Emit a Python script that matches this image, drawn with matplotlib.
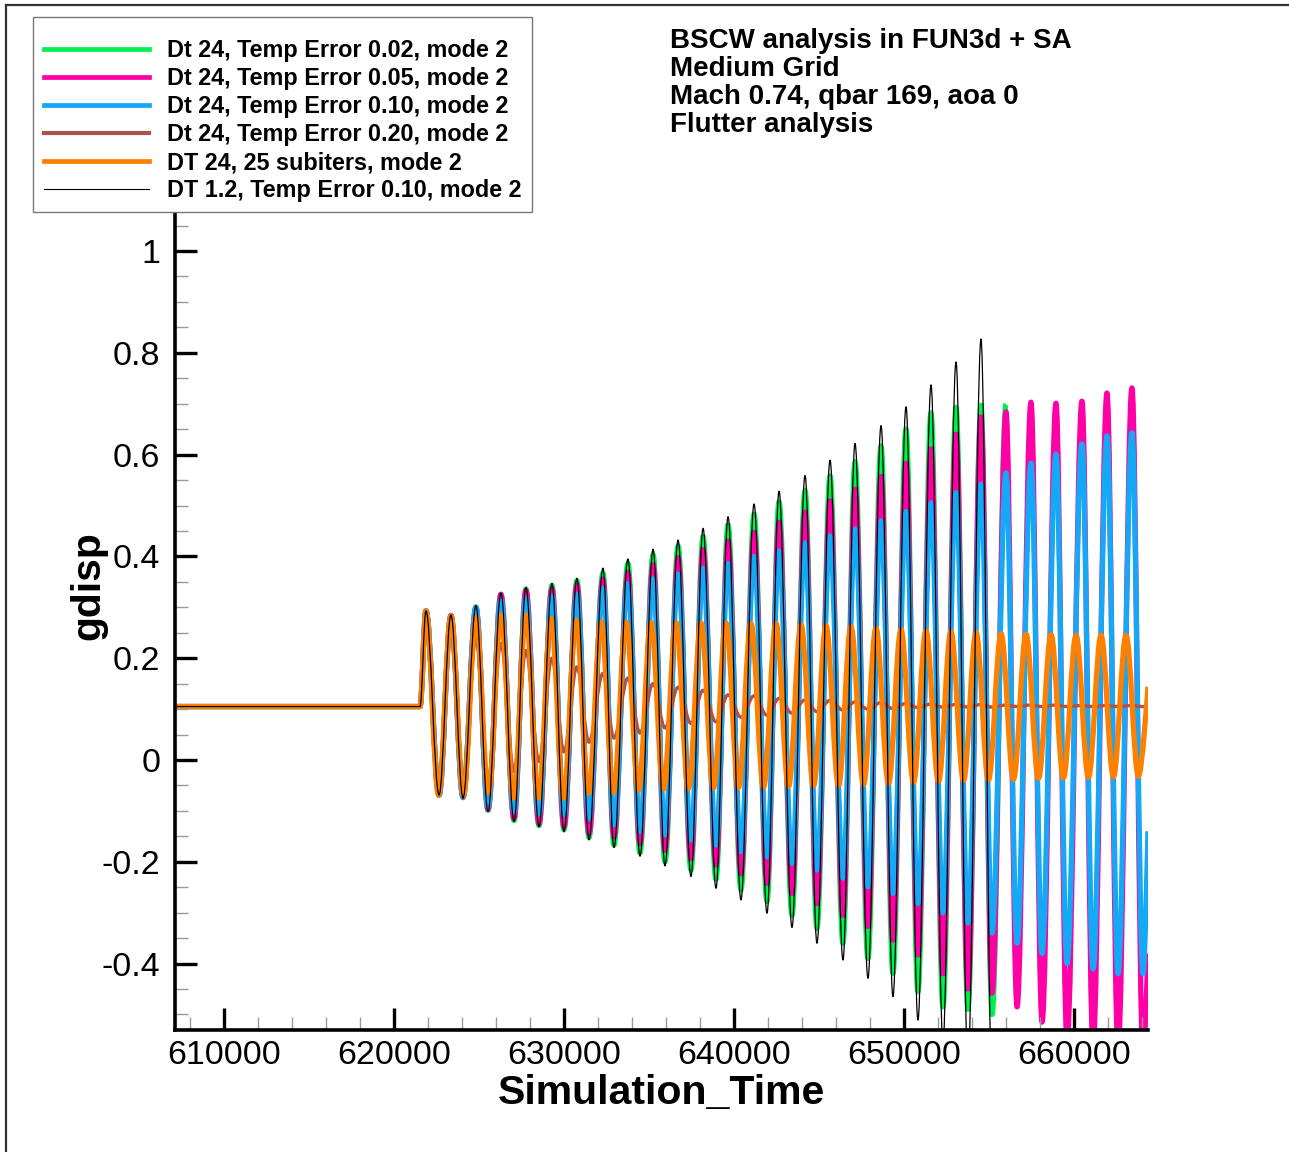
import matplotlib
matplotlib.use("Agg")
import matplotlib.pyplot as plt
from matplotlib.path import Path
from matplotlib.patches import PathPatch
from matplotlib.lines import Line2D
from matplotlib.ticker import MultipleLocator

plt.rcParams['font.family'] = ['Liberation Sans', 'DejaVu Sans']

# Dati: istanti dei massimi/minimi e valori di gdisp
baseline = 0.105
t_step = 621530

t_peak = [621880, 623350, 624820, 626290, 627760, 629290, 630760, 632290, 633760, 635240,
          636710, 638180, 639650, 641180, 642650, 644180, 645650, 647120, 648650, 650120,
          651590, 653060, 654530, 656000, 657470, 658940, 660470, 661940, 663410]
t_trough = [622650, 624060, 625530, 627060, 628530, 630000, 631470, 632940, 634470, 635940,
            637470, 638940, 640410, 641940, 643410, 644880, 646410, 647880, 649350, 650820,
            652290, 653760, 655180, 656650, 658120, 659590, 661120, 662590, 664060]

# orange (25 subiters) ha un periodo un po' piu' corto
t_peak_or = [621880, 623350, 624820, 626290, 627760, 629240, 630710, 632180, 633650, 635120,
             636590, 638060, 639530, 641000, 642470, 643940, 645410, 646880, 648350, 649820,
             651290, 652760, 654240, 655710, 657180, 658650, 660120, 661590, 663060]
t_trough_or = [622620, 624090, 625560, 627030, 628500, 629970, 631440, 632910, 634380, 635850,
               637320, 638790, 640260, 641740, 643210, 644680, 646150, 647620, 649090, 650560,
               652030, 653500, 654970, 656440, 657910, 659380, 660850, 662320, 663790]
t_end = 664350

green_peak = [0.293, 0.284, 0.301, 0.326, 0.336, 0.343, 0.352, 0.367, 0.386, 0.403, 0.420, 0.439,
              0.462, 0.483, 0.507, 0.530, 0.558, 0.586, 0.617, 0.650, 0.682, 0.693, 0.697, 0.699]
green_trough = [-0.069, -0.074, -0.099, -0.119, -0.129, -0.137, -0.152, -0.167, -0.182, -0.200,
                -0.216, -0.234, -0.255, -0.278, -0.305, -0.331, -0.360, -0.390, -0.419, -0.455,
                -0.485, -0.490, -0.500]

pink_peak = [0.293, 0.284, 0.299, 0.325, 0.333, 0.336, 0.344, 0.355, 0.368, 0.383, 0.397, 0.413,
             0.430, 0.447, 0.467, 0.487, 0.509, 0.532, 0.557, 0.583, 0.611, 0.640, 0.674, 0.684,
             0.703, 0.701, 0.705, 0.721, 0.731]
pink_trough = [-0.069, -0.073, -0.097, -0.115, -0.125, -0.131, -0.144, -0.151, -0.164, -0.177,
               -0.193, -0.206, -0.223, -0.242, -0.262, -0.282, -0.305, -0.327, -0.354, -0.383,
               -0.420, -0.450, -0.458, -0.485, -0.515, -0.550, -0.560, -0.570, -0.580]
pink_end = -0.38

cyan_peak = [0.293, 0.283, 0.299, 0.314, 0.318, 0.322, 0.326, 0.338, 0.346, 0.356, 0.365, 0.377,
             0.386, 0.400, 0.411, 0.426, 0.440, 0.454, 0.470, 0.488, 0.505, 0.525, 0.542, 0.564,
             0.583, 0.601, 0.621, 0.637, 0.643]
cyan_trough = [-0.069, -0.072, -0.092, -0.101, -0.106, -0.108, -0.115, -0.128, -0.141, -0.147,
               -0.157, -0.167, -0.180, -0.190, -0.203, -0.216, -0.232, -0.249, -0.262, -0.282,
               -0.300, -0.320, -0.340, -0.360, -0.380, -0.400, -0.410, -0.420, -0.420]
cyan_end = -0.14

brown_peak = [0.293, 0.283, 0.240, 0.229, 0.215, 0.200, 0.183, 0.170, 0.161, 0.150, 0.143, 0.137,
              0.128, 0.126, 0.121, 0.118, 0.117, 0.114, 0.113, 0.111, 0.110, 0.109, 0.109, 0.108,
              0.108, 0.108, 0.107, 0.107, 0.107]
brown_trough = [-0.069, -0.072, -0.040, -0.023, -0.003, 0.016, 0.035, 0.043, 0.053, 0.063, 0.072,
                0.075, 0.084, 0.088, 0.092, 0.095, 0.098, 0.100, 0.101, 0.103, 0.104, 0.104,
                0.104, 0.105, 0.105, 0.105, 0.105, 0.105, 0.105]
brown_end = 0.105

orange_peak = [0.293, 0.283, 0.281, 0.285, 0.285, 0.278, 0.275, 0.271, 0.271, 0.270, 0.270, 0.269,
               0.269, 0.268, 0.268, 0.266, 0.264, 0.262, 0.259, 0.256, 0.254, 0.252, 0.250, 0.248,
               0.247, 0.246, 0.245, 0.245, 0.245]
orange_trough = [-0.069, -0.070, -0.065, -0.075, -0.075, -0.075, -0.065, -0.063, -0.059, -0.057,
                 -0.056, -0.055, -0.054, -0.053, -0.052, -0.051, -0.050, -0.048, -0.046, -0.044,
                 -0.042, -0.040, -0.039, -0.038, -0.036, -0.035, -0.034, -0.033, -0.032]
orange_end = 0.144

black_peak = [0.293, 0.285, 0.303, 0.328, 0.339, 0.347, 0.357, 0.377, 0.395, 0.414, 0.432, 0.455,
              0.478, 0.503, 0.528, 0.559, 0.589, 0.622, 0.657, 0.694, 0.737, 0.782, 0.827]
black_trough = [-0.069, -0.075, -0.101, -0.121, -0.131, -0.141, -0.157, -0.172, -0.189, -0.208,
                -0.229, -0.252, -0.275, -0.301, -0.329, -0.360, -0.393, -0.429, -0.465, -0.511,
                -0.555, -0.600, -0.640]

labels = ["Dt 24, Temp Error 0.02, mode 2",
          "Dt 24, Temp Error 0.05, mode 2",
          "Dt 24, Temp Error 0.10, mode 2",
          "Dt 24, Temp Error 0.20, mode 2",
          "DT 24, 25 subiters, mode 2",
          "DT 1.2, Temp Error 0.10, mode 2"]
colors = ["#00f050", "#ff00a6", "#14a8f5", "#a8554f", "#ff8000", "black"]
widths = [3.8, 3.8, 3.8, 2.4, 3.8, 0.9]
leg_widths = [3.4, 3.4, 3.4, 3.0, 3.4, 0.8]

x_min, x_max = 607118, 664353
y_min, y_max = -0.5305, 1.0747

K = 0.3634  # controlli bezier ~ mezzo coseno tra due estremi


def extrema(tp, vp, tt, vt):
    # alterna massimi e minimi
    t, v = [], []
    for i in range(len(vp)):
        t.append(tp[i])
        v.append(vp[i])
        if i < len(vt):
            t.append(tt[i])
            v.append(vt[i])
    return t, v


def wave_path(t_ext, v_ext, end=None):
    verts = [(x_min - 1000, baseline), (t_step, baseline)]
    codes = [Path.MOVETO, Path.LINETO]
    pts = [(t_step, baseline)] + list(zip(t_ext, v_ext))
    for (t0, v0), (t1, v1) in zip(pts[:-1], pts[1:]):
        dt = t1 - t0
        verts += [(t0 + K * dt, v0), (t1 - K * dt, v1), (t1, v1)]
        codes += [Path.CURVE4] * 3
    if end is not None:
        t0, v0 = pts[-1]
        dt = t_end - t0
        verts += [(t0 + K * dt, v0), (t_end, end), (t_end, end)]
        codes += [Path.CURVE4] * 3
    return Path(verts, codes)


series = [
    extrema(t_peak, green_peak, t_trough, green_trough) + (None,),
    extrema(t_peak, pink_peak, t_trough, pink_trough) + (pink_end,),
    extrema(t_peak, cyan_peak, t_trough, cyan_trough) + (cyan_end,),
    extrema(t_peak, brown_peak, t_trough, brown_trough) + (brown_end,),
    extrema(t_peak_or, orange_peak, t_trough_or, orange_trough) + (orange_end,),
    extrema(t_peak, black_peak, t_trough, black_trough) + (None,),
]

fig = plt.figure(figsize=(12.89, 11.52), dpi=100)
ax = fig.add_axes([175 / 1289, 1 - 1030 / 1152, 973 / 1289, 817 / 1152])

for (t, v, end), c, w in zip(series, colors, widths):
    ax.add_patch(PathPatch(wave_path(t, v, end), facecolor="none", edgecolor=c,
                           linewidth=w, joinstyle="round", capstyle="butt"))

ax.set_xlim(x_min, x_max)
ax.set_ylim(y_min, y_max)

# assi stile tecplot
ax.spines["top"].set_visible(False)
ax.spines["right"].set_visible(False)
ax.spines["left"].set_linewidth(2.6)
ax.spines["bottom"].set_linewidth(2.6)
ax.xaxis.set_major_locator(MultipleLocator(10000))
ax.xaxis.set_minor_locator(MultipleLocator(2000))
ax.yaxis.set_major_locator(MultipleLocator(0.2))
ax.yaxis.set_minor_locator(MultipleLocator(0.05))
ax.tick_params(which="major", direction="in", length=15.5, width=2.4, labelsize=24.5)
ax.tick_params(which="minor", direction="in", length=9.5, width=1.0, color="#999999")
ax.tick_params(axis="x", which="major", pad=7.5)
ax.tick_params(axis="y", which="major", pad=10.5)
ax.set_yticks([-0.4, -0.2, 0, 0.2, 0.4, 0.6, 0.8, 1.0])
ax.set_yticklabels(["-0.4", "-0.2", "0", "0.2", "0.4", "0.6", "0.8", "1"])

fig.text(88 / 1289, 1 - 586 / 1152, "gdisp", rotation=90, ha="center", va="center",
         fontsize=29.5, fontweight="bold")
fig.text(661.5 / 1289, 1 - 1093 / 1152, "Simulation_Time", ha="center", va="center",
         fontsize=29.5, fontweight="bold")

title_lines = ["BSCW analysis in FUN3d + SA", "Medium Grid",
               "Mach 0.74, qbar 169, aoa 0", "Flutter analysis"]
for i, s in enumerate(title_lines):
    fig.text(670 / 1289, 1 - (41 + 28 * i) / 1152, s, ha="left", va="center",
             fontsize=20, fontweight="bold")

handles = [Line2D([], [], color=c, linewidth=w) for c, w in zip(colors, leg_widths)]
leg = fig.legend(handles, labels, loc="upper left", bbox_to_anchor=(33 / 1289, 1 - 17 / 1152),
                 borderaxespad=0, fancybox=False, framealpha=1, edgecolor="#777777",
                 prop={"size": 16.8, "weight": "bold"}, handlelength=4.5, handletextpad=0.8,
                 labelspacing=0.21, borderpad=0.45, title=" ", title_fontsize=6)
leg.get_frame().set_linewidth(1.0)

# bordo della pagina (sinistra e sopra)
fig.add_artist(Line2D([6 / 1289, 6 / 1289], [0, 1 - 5 / 1152], color="#333333", linewidth=1.6))
fig.add_artist(Line2D([6 / 1289, 1], [1 - 5 / 1152, 1 - 5 / 1152], color="#333333", linewidth=1.6))

fig.savefig("out.png", dpi=100)
